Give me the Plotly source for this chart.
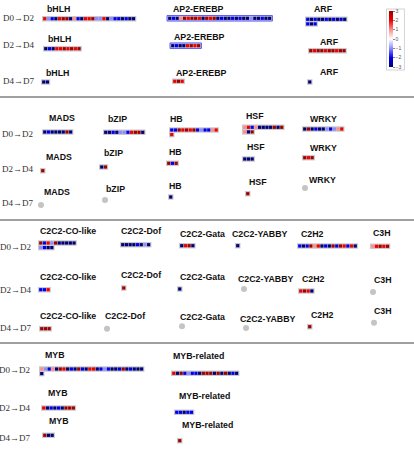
import plotly.graph_objects as go

FAMILIES = ["bHLH", "AP2-EREBP", "ARF", "MADS", "bZIP", "HB", "HSF", "WRKY",
            "C2C2-CO-like", "C2C2-Dof", "C2C2-Gata", "C2C2-YABBY", "C2H2", "C3H",
            "MYB", "MYB-related"]
TRANSITIONS = ["D0\u2192D2", "D2\u2192D4", "D4\u2192D7"]

# log fold change per gene, one list per family (empty list = no genes)
D0_D2 = [
    [2, -1, -2, -3, 2, 3, 3, -3, 1, -2, -3, 2, 2, 3, -1, -1, 2, -3, -1, -2, -2, -3, -2, -3, -3],
    [-3, -2, -3, 1, 3, 2, 3, 3, 2, -3, 3, 2, 3, -3, -2, -3, -3, -2, -3, -2, -3, -3, -1, -3, -3, -2, -3, -3],
    [-2, -3, -2, -3, -3, -2, -3, -2, -3, -2, -3, -2, -3, -2],
    [-3, -2, -3, -3, -3, -3, 3, -3],
    [-3, -3, -2, -3, -1, -1, -2, 2, 3, 3, -3],
    [-2, -2, 3, 2, 3, 2, 3, -2, -1, -2, -2, 1, 2, 2],
    [1, 2, -2, 1, -3, -3, -3, -3, 3, -3, 3, 1, -3, 3],
    [-3, 3, -3, -2, -3, -3, -1, -2, -1, 1, 2],
    [3, -2, 2, -1, 3, -3, -3, -3, -3, -3, -1, -2, -3, -3],
    [-3, -3, -3, -3, -2, -3, -1, -3],
    [-3, 2, 3, -3],
    [-3],
    [-2, -3, -2, 3, 1, 2, -3, -2, -3, 3, -2, 3, 2, -2, 2, -3],
    [1, 2, 3, 2, 3],
    [1, -1, -2, 1, -3, 3, 2, -3, -2, -3, 3, -2, -3, 2, 2, -3, -2, -1, -2, -3, -3, -2, 3, -3, -2, -3, -3, -3, -3],
    [2, -3, 3, -2, -1, -2, -2, -3, 3, 3, 3, -3, 3, -3, 3, -3, -2, -3],
]
D2_D4 = [
    [-3, -2, -3, 2, 2, 3, 2, 3, 2, 3],
    [-3, -2, -3, -3, 2, 3, 2, 3],
    [3, 2, 3, 3, 2, 3, 3, 2, 3, 3],
    [3],
    [-3, 3],
    [3, -2, 3],
    [-3, -3, -3],
    [3, 2, 3],
    [-2, -2, 2],
    [3],
    [-3],
    [],
    [2, 3, 2, -3],
    [],
    [2, -3, -2, -3, -2, -3, 3, 3, 3],
    [-2, -2, -3, -2, -2],
]
D4_D7 = [
    [-3, -3],
    [2, 3, 2],
    [-3],
    [],
    [],
    [-3],
    [3],
    [],
    [3, 3, 3],
    [],
    [],
    [],
    [3],
    [],
    [3, -3, -3],
    [3],
]
SCALE_TICKS = [3, 2, 1, 0, -1, -2, -3]

# page layout in pixels: strip left, strip y, label centre x, label y, cells per row
BLOCKS = {
    "bHLH": [(42, 18.7, 58, 9.3, 40), (43, 48.7, 59, 39.3, 40), (41, 82, 57, 72.7, 40)],
    "AP2-EREBP": [(167, 18.3, 198, 9.3, 40), (170, 45.7, 199, 36.7, 40), (172, 81.3, 201, 72.7, 40)],
    "ARF": [(305, 19.3, 323, 9.3, 11), (308, 50.7, 329, 42.3, 40), (307, 82, 329, 72.3, 40)],
    "MADS": [(42, 132, 62, 117.7, 40), (40, 170.7, 59, 156.7, 40), (38, 205, 57, 192.3, 40)],
    "bZIP": [(103, 132.3, 117, 119.3, 40), (99, 167, 113, 153.3, 40), (102, 200, 115, 189.3, 40)],
    "HB": [(169, 130, 176, 119, 13), (166, 163.3, 175, 152.3, 40), (168, 197, 175, 185.7, 40)],
    "HSF": [(242, 127.3, 255, 115.7, 11), (242, 159, 256, 147.3, 40), (245, 193.7, 258, 181.7, 40)],
    "WRKY": [(302, 129, 323, 119, 40), (302, 157.7, 323, 148, 40), (302, 188, 322, 180, 40)],
    "C2C2-CO-like": [(38, 243, 68, 231, 10), (38, 289.7, 68, 277.3, 40), (39, 328.7, 68, 316.3, 40)],
    "C2C2-Dof": [(120, 244.7, 141, 231, 40), (121, 288, 141, 274.7, 40), (104, 328.7, 125, 316.3, 40)],
    "C2C2-Gata": [(179, 245.7, 202, 234, 40), (177, 289, 202, 277.3, 40), (179, 326.3, 202, 317, 40)],
    "C2C2-YABBY": [(235, 245.7, 260, 234, 40), (241, 289, 266, 279.3, 40), (243, 328, 268, 318.7, 40)],
    "C2H2": [(297, 246, 312, 234, 40), (298, 291, 313, 279.3, 40), (307, 326.7, 322, 314.7, 40)],
    "C3H": [(370, 246.3, 382, 233, 40), (370, 292, 383, 280.3, 40), (371, 322.7, 383, 311.3, 40)],
    "MYB": [(39, 369, 55, 355, 28), (41, 408, 58, 393.3, 40), (42, 435.3, 59, 421, 40)],
    "MYB-related": [(171, 373.3, 198, 356, 40), (174, 412.3, 204, 396, 40), (177, 440.7, 207, 424.7, 40)],
}
HIGHLIGHT = {("AP2-EREBP", 0), ("AP2-EREBP", 1)}
ROW_LABELS = [  # right edge, y per transition
    (36, [17.7, 45.3, 81]),
    (35, [134, 169, 203]),
    (33, [247, 289.7, 327.7]),
    (32, [370, 407.7, 437.7]),
]
SEPARATORS = [97, 220, 343]

PITCH = 3.7
ROW_PITCH = 4.6
PAD = 0.9
HALF_H = 2.75

fig = go.Figure()
cell_x, cell_y, cell_v = [], [], []
empty_x, empty_y = [], []

for t, series in enumerate([D0_D2, D2_D4, D4_D7]):
    for fam, values in zip(FAMILIES, series):
        left, yc, lx, ly, wrap = BLOCKS[fam][t]
        fig.add_annotation(x=lx, y=ly, text="<b>%s</b>" % fam, showarrow=False,
                           xanchor="center", yanchor="middle",
                           font=dict(family="Liberation Sans, Arial", size=8.8, color="#111111"))
        if not values:
            empty_x.append(left + 3)
            empty_y.append(yc)
            continue
        n_rows = (len(values) - 1) // wrap + 1
        for r in range(n_rows):
            n = min(wrap, len(values) - r * wrap)
            y = yc + r * ROW_PITCH
            hl = (fam, t) in HIGHLIGHT
            fig.add_shape(type="rect", layer="below",
                          x0=left, x1=left + 2 * PAD + n * PITCH,
                          y0=y - HALF_H, y1=y + HALF_H,
                          fillcolor="#c9c9c9",
                          line=dict(color="#5a5aff" if hl else "#c9c9c9", width=1 if hl else 0))
        for i, v in enumerate(values):
            cell_x.append(left + PAD + PITCH * (i % wrap + 0.5))
            cell_y.append(yc + (i // wrap) * ROW_PITCH)
            cell_v.append(v)

colorscale = [[0, "#00007a"], [1 / 6, "#0000f0"], [1 / 3, "#8c8cff"], [0.5, "#ffffff"],
              [2 / 3, "#ff8c8c"], [5 / 6, "#f00000"], [1, "#a00000"]]

fig.add_trace(go.Scatter(
    x=cell_x, y=cell_y, mode="markers", hoverinfo="skip",
    marker=dict(symbol="square", size=3.2, color=cell_v, colorscale=colorscale,
                cmin=-3, cmax=3, line=dict(width=0), showscale=True,
                colorbar=dict(x=387 / 414, xanchor="left", y=1 - 9 / 454, yanchor="top",
                              len=60 / 454, lenmode="fraction", thickness=4,
                              xpad=2, ypad=2, outlinewidth=0,
                              bordercolor="#d4d4d4", borderwidth=1, bgcolor="#ffffff",
                              tickvals=SCALE_TICKS, ticks="outside", ticklen=2,
                              tickcolor="#888888",
                              tickfont=dict(family="Liberation Sans, Arial", size=5, color="#555555"))),
))
fig.add_trace(go.Scatter(
    x=empty_x, y=empty_y, mode="markers", hoverinfo="skip",
    marker=dict(symbol="circle", size=6, color="#c4c4c4"),
))

for x_right, ys in ROW_LABELS:
    for label, y in zip(TRANSITIONS, ys):
        fig.add_annotation(x=x_right, y=y, text=label, showarrow=False,
                           xanchor="right", yanchor="middle",
                           font=dict(family="Liberation Serif, Times New Roman", size=9, color="#333333"))

for y in SEPARATORS:
    fig.add_shape(type="line", x0=0, x1=414, y0=y, y1=y,
                  line=dict(color="#404040", width=1))

fig.update_layout(
    width=414, height=454, showlegend=False,
    margin=dict(l=0, r=0, t=0, b=0),
    paper_bgcolor="#ffffff", plot_bgcolor="#ffffff",
)
fig.update_xaxes(range=[0, 414], visible=False, fixedrange=True)
fig.update_yaxes(range=[454, 0], visible=False, fixedrange=True)

fig.write_html("out.html", config={"displayModeBar": False},
               post_script="document.body.style.margin='0';")
